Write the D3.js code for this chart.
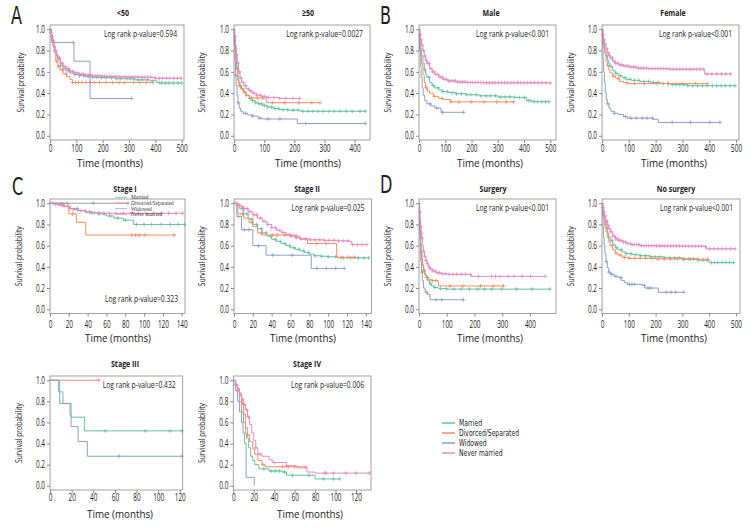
<!DOCTYPE html>
<html><head><meta charset="utf-8">
<script src="https://cdn.jsdelivr.net/npm/d3@7"></script>
<style>
body{margin:0;background:#fff;}
svg{font-family:"Open Sans","Noto Sans","DejaVu Sans",sans-serif;}
</style></head><body>
<svg id="c" width="756" height="528"></svg>
<script>
// ---------- series names / colours ----------
const seriesNames = ["Married","Divorced/Separated","Widowed","Never married"];
const yTicks = [0,0.2,0.4,0.6,0.8,1.0];

// ---------- <50 ----------
const lt50Married = [[0,1],[5,0.95],[10,0.9],[15,0.84],[20,0.79],[25,0.75],[30,0.71],[40,0.66],[50,0.63],[60,0.61],[75,0.59],[90,0.575],[110,0.565],[130,0.555],[160,0.548],[190,0.545],[250,0.535],[320,0.525],[380,0.517],[405,0.5],[420,0.495],[500,0.495]];
const lt50Divorced = [[0,1],[5,0.92],[10,0.85],[15,0.78],[22,0.7],[30,0.65],[38,0.62],[50,0.58],[63,0.555],[75,0.53],[85,0.5],[392,0.5]];
const lt50Widowed = [[0,1],[6,0.875],[91,0.7],[152,0.35],[310,0.35]];
const lt50Never = [[0,1],[3,0.97],[6,0.93],[10,0.89],[15,0.84],[20,0.8],[25,0.76],[30,0.73],[40,0.68],[50,0.65],[60,0.63],[75,0.605],[90,0.59],[110,0.578],[130,0.57],[160,0.562],[200,0.557],[260,0.552],[330,0.55],[390,0.548],[395,0.54],[500,0.54]];
const lt50MarriedC = [40,58,72,95,112,128,145,162,178,195,212,233,252,268,292,305,318,335,352,371,388,415,424,438,452,468,486,500];
const lt50DivorcedC = [25,32,46,62,86,97,108,122,137,152,168,188,212,238,262,282,318,342,365,390];
const lt50WidowedC = [88,310];
const lt50NeverC = [4,8,12,16,21,26,31,36,42,47,53,58,64,70,78,86,94,102,111,119,128,136,145,153,162,171,180,189,198,207,216,226,235,245,254,263,272,282,291,300,310,322,334,346,358,370,382,400,415,428,442,455,470,484,498];

// ---------- >=50 ----------
const ge50Married = [[0,1],[2,0.9],[5,0.8],[8,0.7],[10,0.63],[13,0.56],[16,0.5],[20,0.47],[25,0.44],[32,0.41],[40,0.38],[50,0.35],[60,0.33],[70,0.31],[80,0.3],[95,0.285],[110,0.27],[130,0.255],[150,0.245],[180,0.24],[220,0.23],[435,0.23]];
const ge50Divorced = [[0,1],[2,0.85],[5,0.72],[8,0.62],[12,0.52],[16,0.47],[22,0.44],[30,0.41],[40,0.38],[52,0.355],[107,0.31],[285,0.31]];
const ge50Widowed = [[0,1],[1,0.85],[3,0.7],[5,0.57],[7,0.47],[10,0.38],[13,0.31],[17,0.26],[22,0.23],[30,0.21],[45,0.195],[60,0.185],[80,0.165],[95,0.157],[210,0.115],[435,0.115]];
const ge50Never = [[0,1],[2,0.93],[5,0.85],[8,0.76],[11,0.68],[15,0.6],[20,0.54],[25,0.5],[32,0.47],[40,0.44],[50,0.42],[60,0.4],[75,0.38],[90,0.37],[110,0.36],[150,0.35],[218,0.35]];
const ge50MarriedC = [12,21,30,41,52,61,72,83,92,101,112,124,136,148,163,178,196,212,228,246,262,278,296,315,332,351,372,392,418,435];
const ge50DivorcedC = [18,36,58,78,96,128,168,215,258,285];
const ge50WidowedC = [5,14,38,61,86,112,152,238,435];
const ge50NeverC = [4,9,14,19,24,31,39,47,56,66,76,88,100,114,132,152,172,195,218];

// ---------- Male ----------
const maleMarried = [[0,1],[3,0.9],[6,0.82],[10,0.75],[15,0.68],[20,0.62],[25,0.58],[30,0.55],[40,0.5],[50,0.47],[60,0.45],[75,0.43],[90,0.415],[110,0.405],[140,0.395],[180,0.385],[230,0.375],[300,0.365],[360,0.36],[405,0.355],[410,0.33],[430,0.32],[495,0.32]];
const maleDivorced = [[0,1],[3,0.85],[6,0.75],[10,0.67],[15,0.57],[20,0.5],[25,0.45],[32,0.42],[40,0.4],[55,0.37],[75,0.35],[95,0.34],[120,0.318],[360,0.318]];
const maleWidowed = [[0,1],[2,0.8],[5,0.65],[8,0.55],[12,0.45],[16,0.38],[22,0.33],[30,0.3],[45,0.28],[60,0.26],[84,0.22],[170,0.22]];
const maleNever = [[0,1],[3,0.95],[6,0.9],[10,0.85],[15,0.8],[20,0.75],[25,0.71],[30,0.68],[40,0.63],[50,0.6],[60,0.575],[75,0.55],[90,0.53],[110,0.515],[140,0.505],[180,0.5],[250,0.497],[500,0.495]];
const maleMarriedC = [22,38,55,72,91,108,126,143,162,181,198,218,236,255,272,291,310,328,346,365,382,402,416,424,438,452,468,482,495];
const maleDivorcedC = [28,58,88,122,152,198,248,296,332,360];
const maleWidowedC = [42,68,90,170];
const maleNeverC = [4,8,12,17,22,27,33,39,45,52,58,65,72,80,88,96,104,112,121,130,139,148,157,166,175,185,195,205,215,225,235,246,257,268,279,290,302,314,326,338,350,362,375,388,400,413,426,440,454,468,484,500];

// ---------- Female ----------
const femaleMarried = [[0,1],[3,0.92],[6,0.86],[10,0.8],[15,0.75],[20,0.71],[25,0.68],[30,0.65],[40,0.61],[50,0.585],[60,0.565],[75,0.545],[90,0.53],[110,0.52],[140,0.51],[180,0.5],[220,0.49],[260,0.48],[320,0.47],[500,0.465]];
const femaleDivorced = [[0,1],[3,0.9],[6,0.83],[10,0.77],[15,0.7],[20,0.66],[25,0.62],[30,0.59],[40,0.56],[50,0.54],[65,0.51],[80,0.5],[95,0.49],[395,0.49]];
const femaleWidowed = [[0,1],[2,0.85],[4,0.72],[6,0.6],[9,0.5],[12,0.41],[16,0.34],[20,0.3],[26,0.26],[33,0.23],[45,0.21],[60,0.2],[80,0.18],[95,0.165],[190,0.155],[210,0.125],[440,0.125]];
const femaleNever = [[0,1],[3,0.95],[6,0.9],[10,0.86],[15,0.82],[20,0.78],[25,0.755],[30,0.73],[40,0.7],[50,0.68],[65,0.665],[80,0.655],[100,0.645],[130,0.635],[170,0.63],[250,0.625],[380,0.625],[383,0.58],[480,0.58]];
const femaleMarriedC = [18,34,52,68,86,104,121,138,156,174,192,210,228,246,262,276,290,305,320,338,356,374,392,412,428,444,460,478,495];
const femaleDivorcedC = [22,42,62,92,122,158,202,248,298,348,392];
const femaleWidowedC = [22,46,88,108,128,150,168,188,262,330,402,440];
const femaleNeverC = [4,8,12,17,22,27,33,39,45,52,59,66,74,82,90,99,108,117,126,135,145,155,165,175,186,197,208,219,230,242,254,266,278,290,302,315,328,340,352,365,377,392,410,428,446,462,480];

// ---------- Stage I ----------
const s1Married = [[0,1],[8,0.99],[15,0.97],[22,0.95],[30,0.93],[38,0.91],[50,0.9],[60,0.88],[68,0.86],[78,0.84],[89,0.8],[143,0.8]];
const s1Divorced = [[0,1],[20,0.9],[28,0.82],[38,0.7],[132,0.7]];
const s1Widowed = [[0,1],[83,1]];
const s1Never = [[0,1],[5,0.99],[10,0.98],[15,0.97],[20,0.95],[25,0.94],[30,0.93],[38,0.92],[45,0.91],[55,0.905],[141,0.905]];
const s1MarriedC = [14,29,44,52,58,64,72,80,92,100,108,118,128,136,143];
const s1DivorcedC = [18,24,87,91,95,101,132];
const s1WidowedC = [12,46,83];
const s1NeverC = [3,6,9,12,15,18,21,25,29,33,37,42,47,52,57,63,70,78,86,94,102,110,118,126,134,141];

// ---------- Stage II ----------
const s2Married = [[0,1],[3,0.98],[6,0.95],[10,0.9],[15,0.85],[20,0.8],[25,0.76],[30,0.72],[35,0.69],[40,0.66],[45,0.64],[50,0.62],[55,0.6],[60,0.58],[65,0.565],[70,0.55],[75,0.535],[80,0.52],[85,0.505],[92,0.5],[100,0.495],[110,0.485],[143,0.485]];
const s2Divorced = [[0,1],[4,0.9],[10,0.86],[16,0.82],[20,0.78],[25,0.72],[30,0.7],[65,0.69],[70,0.66],[78,0.62],[109,0.49],[130,0.49]];
const s2Widowed = [[0,1],[3,0.875],[8,0.75],[20,0.6],[34,0.51],[82,0.385],[117,0.385]];
const s2Never = [[0,1],[3,0.99],[6,0.97],[10,0.95],[15,0.92],[20,0.89],[25,0.86],[30,0.83],[35,0.8],[40,0.77],[45,0.745],[50,0.725],[55,0.705],[60,0.69],[65,0.675],[70,0.665],[80,0.655],[95,0.65],[110,0.645],[122,0.64],[125,0.61],[141,0.61]];
const s2MarriedC = [4,9,14,19,24,29,34,39,44,49,54,59,64,69,74,79,86,93,100,108,116,124,132,138,143];
const s2DivorcedC = [9,19,29,41,46,54,59,66,88,98,114,121,128];
const s2WidowedC = [5,11,16,26,41,62,88,98,108,117];
const s2NeverC = [2,5,8,11,14,17,21,24,28,32,36,40,44,48,52,56,61,66,71,76,81,86,91,96,101,106,111,116,121,126,131,136,141];

// ---------- Surgery ----------
const surgMarried = [[0,1],[2,0.85],[4,0.72],[6,0.62],[8,0.54],[10,0.48],[13,0.42],[16,0.37],[20,0.33],[25,0.3],[30,0.27],[38,0.24],[45,0.22],[55,0.205],[70,0.195],[100,0.19],[472,0.19]];
const surgDivorced = [[0,1],[2,0.85],[4,0.7],[6,0.6],[8,0.52],[10,0.46],[13,0.41],[17,0.36],[22,0.32],[28,0.3],[35,0.28],[45,0.27],[70,0.22],[305,0.22]];
const surgWidowed = [[0,1],[2,0.75],[4,0.6],[6,0.45],[9,0.35],[12,0.27],[16,0.2],[22,0.16],[30,0.14],[40,0.09],[160,0.09]];
const surgNever = [[0,1],[2,0.92],[4,0.85],[6,0.78],[8,0.72],[10,0.67],[13,0.6],[16,0.55],[20,0.5],[25,0.46],[30,0.43],[35,0.4],[40,0.38],[50,0.36],[60,0.345],[75,0.335],[100,0.33],[185,0.325],[190,0.31],[455,0.31]];
const surgMarriedC = [8,18,28,42,58,78,98,126,152,182,212,236,262,298,352,408,472];
const surgDivorcedC = [9,19,31,48,61,112,158,222,268,305];
const surgWidowedC = [11,28,62,82,160];
const surgNeverC = [3,6,9,12,16,20,25,30,36,42,50,58,66,74,84,95,108,122,136,152,168,186,214,262,276,292,322,342,372,402,455];

// ---------- No surgery ----------
const nosMarried = [[0,1],[3,0.94],[6,0.88],[10,0.83],[15,0.77],[20,0.72],[25,0.68],[30,0.65],[40,0.61],[50,0.58],[60,0.56],[75,0.54],[90,0.525],[110,0.515],[140,0.505],[180,0.495],[230,0.485],[300,0.475],[360,0.465],[395,0.46],[400,0.44],[495,0.44]];
const nosDivorced = [[0,1],[3,0.93],[6,0.86],[10,0.8],[15,0.73],[20,0.68],[25,0.64],[30,0.6],[40,0.56],[50,0.53],[60,0.51],[75,0.49],[100,0.48],[200,0.475],[300,0.47],[395,0.47]];
const nosWidowed = [[0,1],[2,0.88],[4,0.78],[6,0.68],[8,0.6],[11,0.52],[15,0.45],[20,0.39],[25,0.35],[32,0.33],[45,0.31],[60,0.3],[72,0.27],[85,0.25],[95,0.235],[150,0.225],[160,0.2],[210,0.16],[305,0.16]];
const nosNever = [[0,1],[3,0.96],[6,0.92],[10,0.88],[15,0.83],[20,0.79],[25,0.76],[30,0.73],[40,0.69],[50,0.665],[60,0.65],[75,0.635],[90,0.62],[110,0.61],[140,0.6],[200,0.597],[300,0.595],[385,0.59],[390,0.57],[500,0.57]];
const nosMarriedC = [18,36,54,72,90,108,126,144,162,180,198,216,234,252,270,288,306,324,342,360,378,392,408,420,432,448,462,476,490];
const nosDivorcedC = [12,24,38,52,68,84,102,122,142,164,186,208,232,256,280,304,330,356,380,395];
const nosWidowedC = [16,26,36,52,70,102,112,122,158,172,182,240,258,275,305];
const nosNeverC = [3,7,11,15,19,24,29,34,40,46,52,58,65,72,80,88,96,104,112,120,129,138,147,156,165,174,184,194,204,214,224,234,245,256,267,278,289,300,312,324,336,348,360,372,386,402,418,432,448,464,480,496];

// ---------- Stage III ----------
const s3Married = [[0,1],[9,0.89],[12,0.78],[19.5,0.65],[32,0.52],[122,0.52]];
const s3Divorced = [[0,1],[45,1]];
const s3Widowed = [[0,1],[8,0.89],[9,0.78],[18.5,0.67],[19.5,0.56],[26,0.42],[34.5,0.28],[122,0.28]];
const s3Never = [];
const s3MarriedC = [51,88,111,122];
const s3DivorcedC = [45];
const s3WidowedC = [64,122];
const s3NeverC = [];

// ---------- Stage IV ----------
const s4Married = [[0,1],[2,0.95],[4,0.9],[6,0.8],[8,0.7],[10,0.6],[12,0.5],[13,0.45],[15,0.36],[17,0.28],[19,0.24],[21,0.2],[25,0.16],[35,0.14],[48,0.13],[52,0.1],[80,0.065],[104,0.065]];
const s4Divorced = [[0,1],[2,0.95],[4,0.9],[6,0.85],[8,0.78],[10,0.68],[12,0.55],[14,0.48],[16,0.42],[19,0.35],[21,0.3],[24,0.24],[28,0.2],[31,0.18],[71,0.18]];
const s4Widowed = [[0,1],[2,0.9],[4,0.8],[6,0.7],[8,0.6],[9.5,0.5],[11,0.4],[12.5,0.08],[20.5,0],[20.5,0]];
const s4Never = [[0,1],[2,0.96],[4,0.92],[6,0.87],[8,0.82],[10,0.77],[12,0.72],[14,0.65],[16,0.58],[18,0.5],[20,0.43],[22,0.36],[24,0.3],[28,0.28],[35,0.25],[38,0.22],[52,0.19],[62,0.17],[72,0.13],[80,0.12],[133,0.12]];
const s4MarriedC = [30,37,41,45,50,58,74,88,98,104];
const s4DivorcedC = [4,9,14,29,48,54,60,71];
const s4WidowedC = [];
const s4NeverC = [3,5,7,9,11,13,15,22,26,40,52,89,91,98,110,120,133];

// ---------- panel descriptions (layout) ----------
const panels = [
 {title:"<50", pv:"Log rank p-value=0.594", l:50,r:184,t:25,b:140, xmax:508.7, xt:[0,100,200,300,400,500], tp:1.5, tx:123,ty:16, lx:110,ly:166.5, yx:24, top:true,
  s:[lt50Married,lt50Divorced,lt50Widowed,lt50Never], c:[lt50MarriedC,lt50DivorcedC,lt50WidowedC,lt50NeverC]},
 {title:"\u226550", pv:"Log rank p-value=0.0027", l:234,r:370,t:25,b:140, xmax:451, xt:[0,100,200,300,400], tp:1.5, tx:308,ty:16, lx:308,ly:166.5, yx:205, top:true,
  s:[ge50Married,ge50Divorced,ge50Widowed,ge50Never], c:[ge50MarriedC,ge50DivorcedC,ge50WidowedC,ge50NeverC]},
 {title:"Male", pv:"Log rank p-value<0.001", l:419,r:556,t:25,b:140, xmax:521.7, xt:[0,100,200,300,400,500], tp:1.5, tx:491,ty:16, lx:490,ly:166.5, yx:391, top:true,
  s:[maleMarried,maleDivorced,maleWidowed,maleNever], c:[maleMarriedC,maleDivorcedC,maleWidowedC,maleNeverC]},
 {title:"Female", pv:"Log rank p-value<0.001", l:602,r:739,t:25,b:140, xmax:511, xt:[0,100,200,300,400,500], tp:1.5, tx:673,ty:16, lx:674,ly:166.5, yx:574, top:true,
  s:[femaleMarried,femaleDivorced,femaleWidowed,femaleNever], c:[femaleMarriedC,femaleDivorcedC,femaleWidowedC,femaleNeverC]},
 {title:"Stage I", pv:"Log rank p-value=0.323", l:50,r:185,t:199,b:313.5, xmax:143.5, xt:[0,20,40,60,80,100,120,140], tp:4.5, tx:125,ty:192, lx:118,ly:342, yx:22, top:false, legend:true,
  s:[s1Married,s1Divorced,s1Widowed,s1Never], c:[s1MarriedC,s1DivorcedC,s1WidowedC,s1NeverC]},
 {title:"Stage II", pv:"Log rank p-value=0.025", l:234,r:371.5,t:199,b:313.5, xmax:146, xt:[0,20,40,60,80,100,120,140], tp:4.5, tx:307,ty:192, lx:303,ly:342, yx:205, top:true,
  s:[s2Married,s2Divorced,s2Widowed,s2Never], c:[s2MarriedC,s2DivorcedC,s2WidowedC,s2NeverC]},
 {title:"Surgery", pv:"Log rank p-value<0.001", l:419,r:556,t:199,b:313.5, xmax:494, xt:[0,100,200,300,400], tp:4.5, tx:493,ty:192, lx:490,ly:342, yx:391, top:true,
  s:[surgMarried,surgDivorced,surgWidowed,surgNever], c:[surgMarriedC,surgDivorcedC,surgWidowedC,surgNeverC]},
 {title:"No surgery", pv:"Log rank p-value<0.001", l:602,r:740,t:199,b:313.5, xmax:515, xt:[0,100,200,300,400,500], tp:4.5, tx:676,ty:192, lx:674,ly:342, yx:574, top:true,
  s:[nosMarried,nosDivorced,nosWidowed,nosNever], c:[nosMarriedC,nosDivorcedC,nosWidowedC,nosNeverC]},
 {title:"Stage III", pv:"Log rank p-value=0.432", l:50,r:182.7,t:376,b:490, xmax:122.7, xt:[0,20,40,60,80,100,120], tp:1, tx:125,ty:367, lx:120,ly:517.5, yx:22, top:true,
  s:[s3Married,s3Divorced,s3Widowed,s3Never], c:[s3MarriedC,s3DivorcedC,s3WidowedC,s3NeverC]},
 {title:"Stage IV", pv:"Log rank p-value=0.006", l:233.3,r:371,t:376,b:490, xmax:134.7, xt:[0,20,40,60,80,100,120], tp:1, tx:307,ty:367, lx:310,ly:517.5, yx:205, top:true,
  s:[s4Married,s4Divorced,s4Widowed,s4Never], c:[s4MarriedC,s4DivorcedC,s4WidowedC,s4NeverC]}
];
const letters = [["A",11,23.5],["B",380,23.5],["C",12,195],["D",380,193]];
const colors = ["#66c2a5","#fc8d62","#8da0cb","#e78ac3"];

const svg = d3.select("#c");
const axisCol = "#8a8a8a", txtCol = "#1a1a1a";

// text styles: size, weight, family, sample text, target width in reference (for horizontal condensing)
const textStyles = {
  tick:  {size:10,  weight:"normal", fam:null, sample:"100", target:11},
  pv:    {size:8.6, weight:"normal", fam:null, sample:"Log rank p-value=0.594", target:73},
  title: {size:9.5, weight:"bold",   fam:null, sample:"Stage III", target:28},
  xlab:  {size:10.2,weight:"normal", fam:null, sample:"Time (months)", target:66},
  ylab:  {size:9.2, weight:"normal", fam:null, sample:"Survival probability", target:60},
  leg:   {size:8.4, weight:"normal", fam:"'DejaVu Sans',sans-serif", sample:"Divorced/Separated", target:60},
  letter:{size:24,  weight:"normal", fam:"'DejaVu Sans',sans-serif", sample:"A", target:11}
};
const factors = {};
Object.entries(textStyles).forEach(([k,s]) => {
  const t = svg.append("text").style("font-size", s.size+"px").style("font-weight", s.weight)
    .style("font-family", s.fam).text(s.sample);
  const w = t.node().getComputedTextLength();
  t.remove();
  factors[k] = Math.min(1, s.target / w);
});
function styleText(sel, kind){
  const s = textStyles[kind];
  sel.style("font-size", s.size+"px").style("font-weight", s.weight)
     .style("font-family", s.fam).attr("fill", txtCol).attr("data-kind", kind);
  return sel;
}

function survAt(curve, t){
  let s = 1;
  for (const p of curve){ if (p[0] <= t) s = p[1]; else break; }
  return s;
}

panels.forEach(P => {
  const x = d3.scaleLinear().domain([0, P.xmax]).range([P.l, P.r]);
  const y = d3.scaleLinear().domain([-0.04, 1.04]).range([P.b, P.t]);
  const g = svg.append("g");

  const line = d3.line().x(d => x(d[0])).y(d => y(d[1])).curve(d3.curveStepAfter);
  [0,1,2,3].forEach(i => {
    const data = P.s[i];
    if (!data.length) return;
    g.append("path").attr("d", line(data)).attr("fill","none")
      .attr("stroke", colors[i]).attr("stroke-width", 1);
    const cg = g.append("g").attr("stroke", colors[i]).attr("stroke-width", 0.8);
    P.c[i].forEach(ct => {
      const cx = x(ct), cy = y(survAt(data, ct));
      cg.append("line").attr("x1", cx-2).attr("x2", cx+2).attr("y1", cy).attr("y2", cy);
      cg.append("line").attr("x1", cx).attr("x2", cx).attr("y1", cy-2).attr("y2", cy+2);
    });
  });

  g.append("rect").attr("x", P.l).attr("y", P.t).attr("width", P.r-P.l).attr("height", P.b-P.t)
    .attr("fill","none").attr("stroke", axisCol).attr("stroke-width", 0.8);

  const ya = d3.axisLeft(y).tickValues(yTicks).tickFormat(d3.format(".1f")).tickSize(3).tickPadding(2);
  const yg = g.append("g").attr("transform", `translate(${P.l},0)`).call(ya)
    .attr("font-family", null).attr("font-size", null);
  yg.select(".domain").remove();
  yg.selectAll("line").attr("stroke", axisCol);
  styleText(yg.selectAll("text"), "tick");

  const xa = d3.axisBottom(x).tickValues(P.xt).tickFormat(d3.format("d")).tickSize(3).tickPadding(P.tp);
  const xg = g.append("g").attr("transform", `translate(0,${P.b})`).call(xa)
    .attr("font-family", null).attr("font-size", null);
  xg.select(".domain").remove();
  xg.selectAll("line").attr("stroke", axisCol);
  styleText(xg.selectAll("text"), "tick");

  styleText(g.append("text").attr("x", P.tx).attr("y", P.ty).attr("text-anchor","middle").text(P.title), "title");
  styleText(g.append("text").attr("x", P.lx).attr("y", P.ly).attr("text-anchor","middle").text("Time (months)"), "xlab");
  styleText(g.append("text").attr("transform", `translate(${P.yx},${(P.t+P.b)/2}) rotate(-90)`)
    .attr("text-anchor","middle").text("Survival probability"), "ylab");
  styleText(g.append("text").attr("x", P.r-7).attr("y", P.top ? P.t+11.5 : P.b-12).attr("text-anchor","end").text(P.pv), "pv");

  if (P.legend){
    const lg = g.append("g");
    seriesNames.forEach((n,i) => {
      const yy = 197.3 + i*5.7;
      lg.append("line").attr("x1",115).attr("x2",127).attr("y1",yy).attr("y2",yy).attr("stroke",colors[i]).attr("stroke-width",0.8);
      lg.append("text").attr("x",131).attr("y",yy+1.8).attr("fill","#333")
        .style("font-family","'Liberation Serif','DejaVu Serif',serif").style("font-size","5.4px").text(n);
    });
  }
});

letters.forEach(([l,xx,yy]) => {
  styleText(svg.append("text").attr("x",xx).attr("y",yy).text(l), "letter");
});

const leg = svg.append("g");
seriesNames.forEach((n,i) => {
  const yy = 423 + i*10;
  leg.append("line").attr("x1",442).attr("x2",455).attr("y1",yy).attr("y2",yy).attr("stroke",colors[i]).attr("stroke-width",1.5);
  styleText(leg.append("text").attr("x",459).attr("y",yy+3).text(n), "leg");
});

// condense text horizontally to match the narrow face of the reference
svg.selectAll("text[data-kind]").each(function(){
  const k = this.getAttribute("data-kind");
  const w = this.getComputedTextLength();
  this.setAttribute("textLength", (w*factors[k]).toFixed(2));
  this.setAttribute("lengthAdjust", "spacingAndGlyphs");
});
</script>
</body></html>
